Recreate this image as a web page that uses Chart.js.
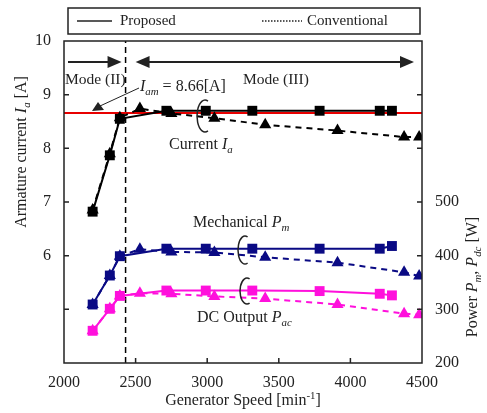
<!DOCTYPE html>
<html>
<head>
<meta charset="utf-8">
<script src="https://cdn.jsdelivr.net/npm/chart.js@4.4.1/dist/chart.umd.min.js"></script>
<style>
  body { margin: 0; background: #fff; }
  #wrap { width: 487px; height: 413px; }
</style>
</head>
<body>
<div id="wrap"><canvas id="chart" width="487" height="413"></canvas></div>
<script>
// Generator speed [min^-1]
const speedProposed = [2200, 2320, 2390, 2715, 2990, 3315, 3785, 4205, 4290];
const speedConventional = [2200, 2320, 2390, 2530, 2750, 3050, 3405, 3910, 4375, 4480];

// Armature current Ia [A]
const currentProposed = [6.82, 7.87, 8.55, 8.70, 8.70, 8.70, 8.70, 8.70, 8.70];
const currentConventional = [6.85, 7.90, 8.57, 8.74, 8.65, 8.56, 8.44, 8.33, 8.21, 8.21];

// Mechanical power Pm [W]
const mechProposed = [309, 363, 399, 413, 413, 413, 413, 413, 418];
const mechConventional = [309, 363, 399, 412, 407, 406, 397, 387, 369, 362];

// DC output power [W]
const dcProposed = [260, 301, 325, 335, 335, 335, 334, 329, 326];
const dcConventional = [260, 301, 325, 330, 329, 324, 320, 309, 292, 290];

const iamLimit = 8.66;
const modeBoundary = 2430;

const xTicks = [2000, 2500, 3000, 3500, 4000, 4500];
const leftTicks = [6, 7, 8, 9, 10];
const rightTicks = [200, 300, 400, 500];

const NAVY = '#0a0a84';
const PINK = '#ff10dc';
const FONT = '"Liberation Serif", "DejaVu Serif", serif';
const INK = '#222';

const pts = (xs, ys) => xs.map((x, i) => ({ x: x, y: ys[i] }));

function series(label, xs, ys, axis, color, dashed, order) {
    return {
        label: label,
        data: pts(xs, ys),
        yAxisID: axis,
        borderColor: color,
        backgroundColor: color,
        borderWidth: 2,
        borderDash: dashed ? [6, 5] : [],
        pointStyle: dashed ? 'triangle' : 'rect',
        pointRadius: 7,
        pointBorderWidth: 0,
        tension: 0,
        order: order
    };
}

function richText(ctx, parts, x, y, size, align) {
    let total = 0;
    const runs = parts.map(p => {
        const t = p[0], f = p[1] || '';
        const small = f.includes('s') || f.includes('p');
        const font = (f.includes('i') ? 'italic ' : '') + (small ? size * 0.68 : size) + 'px ' + FONT;
        ctx.font = font;
        const w = ctx.measureText(t).width;
        total += w;
        return { t: t, f: f, font: font, w: w };
    });
    let cx = align === 'center' ? x - total / 2 : x;
    ctx.textAlign = 'left';
    ctx.textBaseline = 'middle';
    runs.forEach(r => {
        ctx.font = r.font;
        const dy = r.f.includes('s') ? size * 0.3 : (r.f.includes('p') ? -size * 0.3 : 0);
        ctx.fillText(r.t, cx, y + dy);
        cx += r.w;
    });
}

function arrowHead(ctx, x, y, dir) {
    ctx.beginPath();
    ctx.moveTo(x, y);
    ctx.lineTo(x - dir * 14, y - 6);
    ctx.lineTo(x - dir * 14, y + 6);
    ctx.closePath();
    ctx.fill();
}

function bracket(ctx, cx, cy, rx, ry) {
    ctx.beginPath();
    ctx.ellipse(cx, cy, rx, ry, 0, -0.38 * Math.PI, 0.38 * Math.PI, true);
    ctx.stroke();
}

const decorations = {
    id: 'decorations',
    afterDatasetsDraw(chart) {
        const ctx = chart.ctx;
        const a = chart.chartArea;
        const xs = chart.scales.x, yl = chart.scales.y, yr = chart.scales.y2;
        ctx.save();
        ctx.strokeStyle = INK;
        ctx.fillStyle = INK;
        ctx.lineWidth = 1.5;

        // frame
        ctx.strokeRect(a.left, a.top, a.right - a.left, a.bottom - a.top);

        // inward tick marks
        ctx.beginPath();
        for (let v = 2500; v < 4500; v += 500) {
            const px = xs.getPixelForValue(v);
            ctx.moveTo(px, a.bottom); ctx.lineTo(px, a.bottom - 5);
        }
        for (let v = 5; v < 10; v += 1) {
            const py = yl.getPixelForValue(v);
            ctx.moveTo(a.left, py); ctx.lineTo(a.left + 5, py);
        }
        for (let v = 300; v < 800; v += 100) {
            const py = yr.getPixelForValue(v);
            ctx.moveTo(a.right, py); ctx.lineTo(a.right - 5, py);
        }
        ctx.stroke();

        // legend box
        ctx.strokeRect(68, 8, 352, 26);
        ctx.beginPath();
        ctx.moveTo(77, 21); ctx.lineTo(112, 21);
        ctx.stroke();
        ctx.setLineDash([1.5, 1.5]);
        ctx.beginPath();
        ctx.moveTo(262, 21); ctx.lineTo(302, 21);
        ctx.stroke();
        ctx.setLineDash([]);
        richText(ctx, [['Proposed']], 120, 21, 15, 'left');
        richText(ctx, [['Conventional']], 307, 21, 15, 'left');

        // mode arrows
        const bx = xs.getPixelForValue(modeBoundary);
        ctx.lineWidth = 2;
        ctx.beginPath();
        ctx.moveTo(68, 62); ctx.lineTo(bx - 12, 62);
        ctx.moveTo(bx + 18, 62); ctx.lineTo(403, 62);
        ctx.stroke();
        arrowHead(ctx, bx - 4, 62, 1);
        arrowHead(ctx, bx + 10, 62, -1);
        arrowHead(ctx, 414, 62, 1);
        richText(ctx, [['Mode (II)']], 65, 80, 15.5, 'left');
        richText(ctx, [['Mode (III)']], 243, 80, 15.5, 'left');

        // Iam annotation
        richText(ctx, [['I', 'i'], ['am', 'is'], [' = 8.66[A]']], 140, 87, 16, 'left');
        ctx.lineWidth = 1;
        ctx.beginPath();
        ctx.moveTo(139, 88); ctx.lineTo(100, 106);
        ctx.stroke();
        ctx.beginPath();
        ctx.moveTo(92, 111); ctx.lineTo(98, 102); ctx.lineTo(104, 110);
        ctx.closePath();
        ctx.fill();

        // series labels and brackets
        ctx.lineWidth = 1.5;
        richText(ctx, [['Current '], ['I', 'i'], ['a', 'is']], 169, 145, 16, 'left');
        bracket(ctx, 205, 116, 8, 16);
        richText(ctx, [['Mechanical '], ['P', 'i'], ['m', 'is']], 193, 223, 16, 'left');
        bracket(ctx, 245, 250, 7, 14);
        richText(ctx, [['DC Output '], ['P', 'i'], ['ac', 'is']], 197, 318, 16, 'left');
        bracket(ctx, 247, 291, 7, 13);

        // axis titles
        richText(ctx, [['Generator Speed [min'], ['-1', 'p'], [']']], 243, 401, 16, 'center');
        ctx.save();
        ctx.translate(22, 152);
        ctx.rotate(-Math.PI / 2);
        richText(ctx, [['Armature current '], ['I', 'i'], ['a', 'is'], [' [A]']], 0, 0, 16, 'center');
        ctx.restore();
        ctx.save();
        ctx.translate(473, 277);
        ctx.rotate(-Math.PI / 2);
        richText(ctx, [['Power '], ['P', 'i'], ['m', 'is'], [', '], ['P', 'i'], ['dc', 'is'], [' [W]']], 0, 0, 16, 'center');
        ctx.restore();

        ctx.restore();
    }
};

const datasets = [
    series('Current proposed', speedProposed, currentProposed, 'y', '#000', false, 1),
    series('Current conventional', speedConventional, currentConventional, 'y', '#000', true, 2),
    series('Pm proposed', speedProposed, mechProposed, 'y2', NAVY, false, 1),
    series('Pm conventional', speedConventional, mechConventional, 'y2', NAVY, true, 2),
    series('Pdc proposed', speedProposed, dcProposed, 'y2', PINK, false, 1),
    series('Pdc conventional', speedConventional, dcConventional, 'y2', PINK, true, 2),
    {
        label: 'Iam',
        data: [{ x: 2000, y: iamLimit }, { x: 4500, y: iamLimit }],
        yAxisID: 'y',
        borderColor: '#e80000',
        borderWidth: 2,
        pointRadius: 0,
        order: 3
    },
    {
        label: 'Mode boundary',
        data: [{ x: modeBoundary, y: 4 }, { x: modeBoundary, y: 10 }],
        yAxisID: 'y',
        borderColor: '#000',
        borderWidth: 1.5,
        borderDash: [6, 4],
        pointRadius: 0,
        order: 4
    }
];

const tickFont = { family: FONT, size: 16 };
const plain = v => String(v);

new Chart(document.getElementById('chart'), {
    type: 'line',
    data: { datasets: datasets },
    options: {
        responsive: false,
        animation: false,
        layout: { padding: { top: 41, left: 0, right: 0, bottom: 0 } },
        plugins: { legend: { display: false }, tooltip: { enabled: false } },
        scales: {
            x: {
                type: 'linear',
                min: 2000,
                max: 4500,
                grid: { display: false },
                border: { display: false },
                afterBuildTicks: s => { s.ticks = xTicks.map(v => ({ value: v })); },
                ticks: { color: INK, font: tickFont, padding: 2, maxRotation: 0, callback: plain },
                afterFit: s => { s.height = 50; }
            },
            y: {
                position: 'left',
                min: 4,
                max: 10,
                grid: { display: false },
                border: { display: false },
                afterBuildTicks: s => { s.ticks = leftTicks.map(v => ({ value: v })); },
                ticks: { color: INK, font: tickFont, padding: 5, callback: plain },
                afterFit: s => { s.width = 64; }
            },
            y2: {
                position: 'right',
                min: 200,
                max: 800,
                grid: { display: false },
                border: { display: false },
                afterBuildTicks: s => { s.ticks = rightTicks.map(v => ({ value: v })); },
                ticks: { color: INK, font: tickFont, padding: 5, callback: plain },
                afterFit: s => { s.width = 65; }
            }
        }
    },
    plugins: [decorations]
});
</script>
</body>
</html>
